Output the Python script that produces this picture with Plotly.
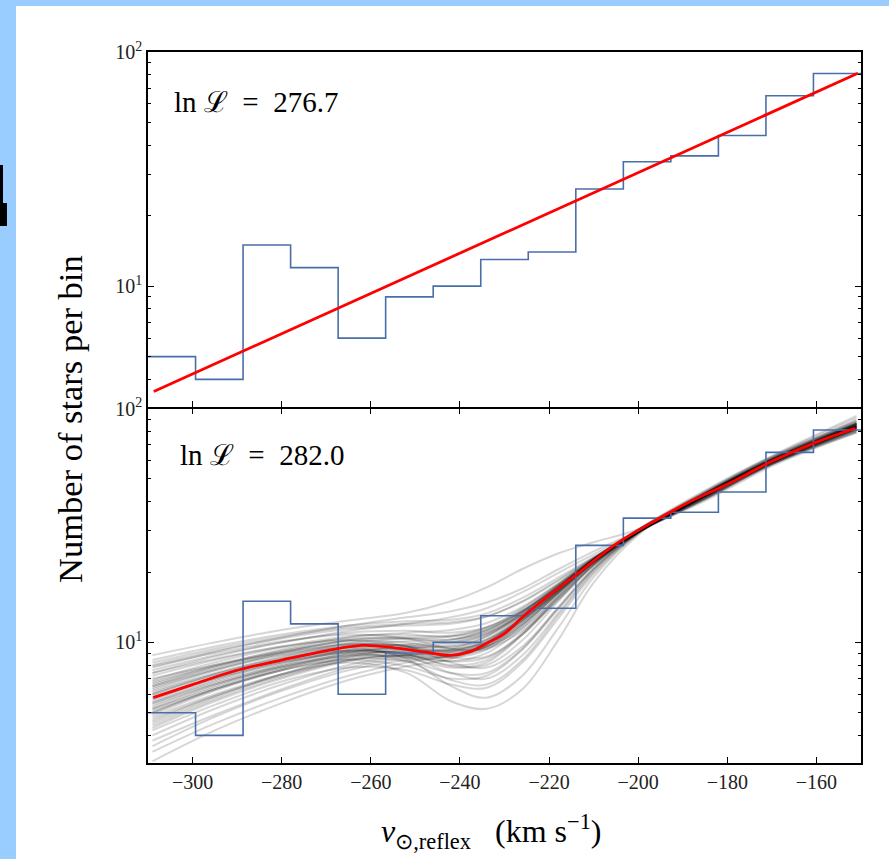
import plotly.graph_objects as go

# ---------------------------------------------------------------------------
# Data
# ---------------------------------------------------------------------------
# Histogram of reflex-corrected velocities (15 bins between -310 and -150 km/s)
bin_edges = [-310.0, -299.33, -288.67, -278.0, -267.33, -256.67, -246.0, -235.33,
             -224.67, -214.0, -203.33, -192.67, -182.0, -171.33, -160.67, -150.0]
star_counts = [5, 4, 15, 12, 6, 9, 10, 13, 14, 26, 34, 36, 44, 65, 81]

# Upper panel: single-exponential model (straight line in log space)
exp_fit_v = [-308.7, -150.7]
exp_fit_n = [3.55, 81.1]

# Lower panel: best-fit flexible model
best_fit_v = [-308.8, -300, -290, -280, -270, -262, -255, -248, -242, -238, -234,
              -230, -226, -220, -214, -205, -196, -188, -180, -170, -160, -151.3]
best_fit_n = [5.8, 6.6, 7.6, 8.4, 9.2, 9.7, 9.5, 9.1, 8.8, 9.1, 9.9,
              10.9, 12.8, 15.9, 19.4, 26.3, 33.3, 40.3, 47.5, 59.5, 71.9, 82.4]

# Lower panel: posterior draws of the flexible model, evaluated at these velocities
draw_v = [-309, -295, -280, -265, -252, -242, -234, -226, -218, -210, -200, -185, -170, -151]
posterior_draws = [
    [5.8, 7.1, 8.4, 9.5, 9.3, 8.8, 9.9, 12.8, 17.0, 22.4, 29.8, 42.5, 59.4, 83],
    [6.2, 7.4, 8.6, 9.6, 9.8, 9.6, 10.3, 12.6, 16.4, 22.0, 29.6, 42.1, 60.0, 84],
    [5.0, 6.3, 7.7, 9.0, 9.6, 10.0, 11.0, 13.2, 16.8, 22.0, 29.5, 43.1, 59.0, 82],
    [4.5, 5.8, 7.3, 8.7, 9.4, 9.8, 10.8, 13.4, 17.4, 22.6, 30.0, 42.7, 59.6, 85],
    [7.0, 8.0, 9.0, 9.8, 9.6, 9.0, 9.6, 12.0, 16.2, 22.0, 30.2, 42.3, 58.4, 81],
    [5.4, 6.6, 7.8, 8.7, 8.6, 7.8, 8.2, 10.8, 15.6, 21.8, 30.0, 43.3, 60.6, 86],
    [6.6, 7.9, 9.3, 10.5, 11.0, 11.3, 12.1, 14.2, 17.8, 22.8, 29.6, 41.1, 58.0, 82],
    [4.0, 5.2, 6.6, 8.0, 8.8, 9.1, 10.2, 12.8, 17.0, 22.5, 30.1, 43.3, 61.0, 87],
    [8.0, 9.2, 10.4, 11.4, 11.8, 12.0, 12.9, 14.9, 18.3, 23.0, 29.8, 41.3, 57.8, 81],
    [5.6, 6.9, 8.2, 9.0, 8.3, 6.9, 6.6, 8.4, 13.0, 20.0, 29.4, 42.7, 60.0, 84],
    [6.4, 7.6, 8.8, 9.5, 8.5, 6.5, 5.8, 7.2, 11.5, 19.0, 29.2, 43.3, 61.2, 86],
    [4.8, 6.0, 7.3, 8.2, 7.4, 5.6, 5.2, 6.3, 10.2, 18.0, 28.8, 43.9, 62.2, 88],
    [8.8, 10.0, 11.3, 12.4, 13.4, 15.0, 17.2, 20.6, 24.0, 26.8, 30.4, 40.3, 56.8, 79],
    [7.8, 9.1, 10.5, 11.8, 12.8, 13.6, 14.8, 17.0, 20.5, 24.5, 30.0, 41.1, 58.0, 80],
    [3.4, 4.5, 5.8, 7.2, 8.2, 8.8, 10.0, 12.6, 16.8, 22.6, 30.4, 43.9, 61.6, 89],
    [3.8, 4.9, 6.3, 7.8, 8.6, 8.7, 9.4, 11.8, 16.3, 22.4, 30.3, 44.1, 62.2, 91],
    [5.2, 6.4, 7.8, 8.9, 9.2, 9.4, 10.6, 13.4, 17.6, 22.9, 30.0, 42.1, 59.2, 83],
    [6.9, 8.2, 9.5, 10.4, 10.4, 10.0, 10.8, 13.0, 16.9, 22.2, 29.7, 41.9, 59.0, 82],
    [7.4, 8.5, 9.6, 10.2, 9.6, 8.2, 7.8, 9.6, 14.0, 20.6, 29.5, 42.3, 59.6, 84],
    [4.3, 5.6, 7.0, 8.3, 8.8, 8.8, 9.6, 12.2, 16.6, 22.4, 30.2, 43.1, 60.2, 86],
    [7.4, 8.7, 10.0, 11.2, 12.0, 12.8, 14.0, 16.4, 19.8, 23.8, 29.9, 41.1, 57.8, 80],
    [6.0, 7.3, 8.7, 9.9, 10.4, 10.6, 11.5, 13.8, 17.6, 22.6, 29.9, 42.3, 59.4, 83],
    [5.0, 6.3, 7.6, 8.4, 7.9, 7.0, 7.2, 9.3, 13.8, 20.6, 29.6, 42.9, 60.2, 85],
    [5.9, 7.0, 8.2, 9.1, 9.0, 8.6, 9.3, 11.8, 16.2, 22.0, 29.9, 42.7, 59.8, 84],
    [8.4, 9.6, 10.8, 11.8, 12.3, 12.5, 13.3, 15.5, 18.9, 23.2, 29.7, 41.7, 58.8, 82],
    [6.5, 7.7, 8.9, 9.8, 9.7, 9.2, 9.6, 11.5, 15.6, 21.6, 29.7, 42.5, 59.6, 84],
    [4.2, 5.4, 6.8, 7.8, 7.6, 6.6, 6.4, 8.2, 12.6, 19.6, 29.3, 43.5, 61.4, 87],
    [5.5, 6.8, 8.1, 9.3, 9.8, 10.2, 11.3, 13.6, 17.2, 22.4, 29.8, 42.5, 59.6, 84],
    [3.1, 4.2, 5.5, 6.9, 7.9, 8.5, 9.7, 12.4, 16.8, 22.7, 30.5, 44.7, 62.8, 93],
    [4.7, 5.9, 7.2, 8.4, 8.8, 8.3, 8.6, 11.0, 15.8, 22.0, 30.1, 43.3, 60.8, 87],
    [5.3, 6.6, 8.0, 9.2, 9.4, 9.2, 10.0, 12.5, 16.6, 22.2, 29.8, 42.3, 59.8, 84],
    [6.8, 8.0, 9.2, 10.1, 10.0, 9.4, 10.0, 12.3, 16.4, 22.1, 29.9, 41.7, 58.6, 82],
    [4.6, 5.9, 7.3, 8.6, 9.1, 9.2, 10.1, 12.7, 16.9, 22.5, 30.0, 42.9, 60.0, 85],
    [7.6, 8.8, 10.0, 11.0, 11.2, 11.0, 11.6, 13.6, 17.3, 22.5, 29.8, 41.5, 58.2, 81],
    [5.7, 7.0, 8.3, 9.2, 8.9, 7.9, 8.0, 10.2, 14.9, 21.3, 29.6, 42.7, 60.0, 85],
    [6.1, 7.3, 8.5, 9.3, 8.9, 8.0, 8.4, 10.8, 15.4, 21.6, 29.7, 42.5, 59.6, 84],
    [4.9, 6.2, 7.6, 8.8, 9.2, 9.3, 10.3, 13.0, 17.2, 22.6, 30.0, 43.1, 60.4, 86],
    [6.3, 7.6, 9.0, 10.2, 10.6, 10.7, 11.6, 14.0, 17.8, 22.9, 30.1, 41.9, 58.6, 82],
    [5.1, 6.3, 7.6, 8.5, 8.3, 7.4, 7.4, 9.4, 14.1, 20.8, 29.5, 42.7, 60.2, 86],
    [7.2, 8.4, 9.6, 10.6, 10.8, 10.6, 11.3, 13.5, 17.2, 22.4, 29.9, 42.1, 59.0, 83],
    [3.6, 4.8, 6.2, 7.6, 8.4, 8.7, 9.6, 12.0, 16.4, 22.3, 30.3, 43.5, 61.0, 89],
    [8.2, 9.4, 10.6, 11.6, 12.0, 12.2, 12.9, 15.0, 18.5, 23.0, 29.6, 40.9, 57.6, 79],
    [5.5, 6.7, 7.9, 8.8, 8.7, 8.3, 9.0, 11.5, 16.0, 22.0, 29.8, 42.5, 59.6, 84],
    [6.7, 7.9, 9.1, 9.9, 9.6, 8.6, 8.7, 10.8, 15.2, 21.4, 29.6, 42.3, 59.4, 84],
    [4.4, 5.7, 7.1, 8.4, 8.9, 9.0, 9.9, 12.4, 16.7, 22.5, 30.2, 43.3, 60.4, 86],
    [5.8, 7.1, 8.5, 9.7, 10.1, 10.3, 11.2, 13.6, 17.4, 22.6, 29.9, 42.3, 59.4, 83],
    [6.0, 7.2, 8.4, 9.2, 8.7, 7.4, 7.0, 8.8, 13.3, 20.3, 29.4, 43.1, 60.6, 86],
    [7.9, 9.0, 10.1, 10.8, 10.4, 9.4, 9.4, 11.2, 15.2, 21.4, 29.6, 42.1, 59.0, 83],
    [5.2, 6.5, 7.9, 9.1, 9.5, 9.6, 10.6, 13.1, 17.2, 22.6, 30.0, 42.7, 59.8, 85],
    [6.5, 7.8, 9.1, 10.2, 10.4, 10.3, 11.0, 13.2, 17.0, 22.4, 29.8, 42.3, 59.4, 84],
]

# Axis ticks and labels
x_ticks = [-300, -280, -260, -240, -220, -200, -180, -160]
y_major = [10, 100]
y_major_text = ["10<sup>1</sup>", "10<sup>2</sup>"]
y_minor = [4, 5, 6, 7, 8, 9, 20, 30, 40, 50, 60, 70, 80, 90]

NB = "\u00a0"
lnL_top = f"ln{NB}ℒ{NB}{NB}={NB}{NB}276.7"
lnL_bottom = f"ln{NB}ℒ{NB}{NB}={NB}{NB}282.0"
x_title = f"<i>v</i><sub>⊙,reflex</sub>{NB}{NB}{NB}(km{NB}s<sup>−1</sup>)"
y_title = "Number of stars per bin"

# ---------------------------------------------------------------------------
# Styling
# ---------------------------------------------------------------------------
SERIF = "Liberation Serif, Times New Roman, serif"
HIST_BLUE = "#4a6fa8"
FIT_RED = "#ff0000"

step_x = bin_edges
step_y = star_counts + [star_counts[-1]]

fig = go.Figure()

# Upper panel: histogram + exponential fit
fig.add_trace(go.Scatter(x=step_x, y=step_y, mode="lines",
                         line=dict(color=HIST_BLUE, width=1.6, shape="hv"),
                         xaxis="x", yaxis="y", hoverinfo="skip"))
fig.add_trace(go.Scatter(x=exp_fit_v, y=exp_fit_n, mode="lines",
                         line=dict(color=FIT_RED, width=2.8),
                         xaxis="x", yaxis="y", hoverinfo="skip"))

# Lower panel: posterior draws, histogram, best fit
for draw in posterior_draws:
    fig.add_trace(go.Scatter(x=draw_v, y=draw, mode="lines",
                             line=dict(color="rgba(0,0,0,0.16)", width=2, shape="spline"),
                             xaxis="x2", yaxis="y2", hoverinfo="skip"))
fig.add_trace(go.Scatter(x=step_x, y=step_y, mode="lines",
                         line=dict(color=HIST_BLUE, width=1.6, shape="hv"),
                         xaxis="x2", yaxis="y2", hoverinfo="skip"))
fig.add_trace(go.Scatter(x=best_fit_v, y=best_fit_n, mode="lines",
                         line=dict(color=FIT_RED, width=2.8, shape="spline"),
                         xaxis="x2", yaxis="y2", hoverinfo="skip"))

FRAME_W = 1.6
split_top = 0.5007
split_bottom = split_top - FRAME_W / 711  # lets the shared frame lines coincide

x_common = dict(range=[-310, -150], tickvals=x_ticks, ticks="inside", ticklen=6,
                tickwidth=1.2, tickcolor="black", showline=True, linecolor="black",
                linewidth=FRAME_W, showgrid=False, zeroline=False, domain=[0, 1],
                tickfont=dict(family=SERIF, size=20, color="#222"))
y_common = dict(type="log", range=[0.484, 2], tickvals=y_major, ticktext=y_major_text,
                ticks="inside", ticklen=6, tickwidth=1.2, tickcolor="black",
                showline=True, linecolor="black", linewidth=FRAME_W, mirror="allticks",
                showgrid=False, zeroline=False,
                minor=dict(tickmode="array", tickvals=y_minor, ticks="inside",
                           ticklen=3, tickwidth=1, tickcolor="black", showgrid=False),
                tickfont=dict(family=SERIF, size=20, color="#222"))

fig.update_layout(
    width=889, height=859,
    margin=dict(l=148, r=28, t=52, b=96),
    paper_bgcolor="#99ccff",
    plot_bgcolor="white",
    showlegend=False,
    xaxis=dict(**x_common, anchor="y", mirror=True, showticklabels=False),
    xaxis2=dict(**x_common, anchor="y2", mirror="allticks", showticklabels=True),
    yaxis=dict(**y_common, domain=[split_top, 1], anchor="x"),
    yaxis2=dict(**y_common, domain=[0, split_bottom], anchor="x2"),
    shapes=[
        # white page area
        dict(type="rect", xref="paper", yref="paper", x0=-0.1851, x1=1.1, y0=-0.2, y1=1.0647,
             fillcolor="white", line=dict(width=0), layer="below"),
        # dark glyph fragment at the left page edge
        dict(type="rect", xref="paper", yref="paper", x0=-0.21, x1=-0.2034, y0=0.7876, y1=0.8411,
             fillcolor="black", line=dict(width=0), layer="below"),
        dict(type="rect", xref="paper", yref="paper", x0=-0.21, x1=-0.1978, y0=0.7553, y1=0.7876,
             fillcolor="black", line=dict(width=0), layer="below"),
    ],
    annotations=[
        dict(text=lnL_top, xref="paper", yref="paper", x=0.0337, y=0.9297,
             xanchor="left", yanchor="middle", showarrow=False,
             font=dict(family=SERIF, size=29, color="black")),
        dict(text=lnL_bottom, xref="paper", yref="paper", x=0.042, y=0.4332,
             xanchor="left", yanchor="middle", showarrow=False,
             font=dict(family=SERIF, size=29, color="black")),
        dict(text=x_title, xref="paper", yref="paper", x=0.482, y=-0.097,
             xanchor="center", yanchor="middle", showarrow=False,
             font=dict(family=SERIF, size=32, color="black")),
        dict(text=y_title, xref="paper", yref="paper", x=-0.1094, y=0.4838,
             xanchor="center", yanchor="middle", showarrow=False, textangle=-90,
             font=dict(family=SERIF, size=34.5, color="black")),
    ],
)

fig.write_html("out.html")
